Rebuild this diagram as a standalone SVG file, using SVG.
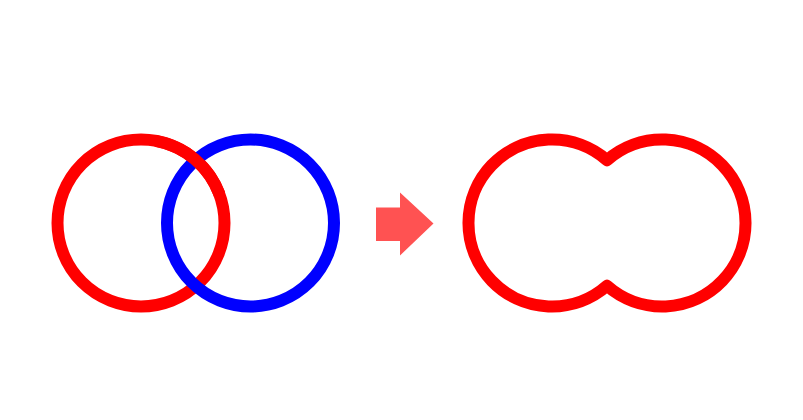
<svg xmlns="http://www.w3.org/2000/svg" width="803" height="420" viewBox="0 0 803 420">
<style>
.ring{fill:none;stroke-width:12}
.red{stroke:#ff0000}
.blue{stroke:#0000ff}
</style>
<rect width="803" height="420" fill="#ffffff"/>
<g id="before">
<circle class="ring red" cx="141" cy="223" r="83.5"/>
<circle class="ring blue" cx="250.5" cy="223" r="83.5"/>
<path class="ring red" d="M155.5,140.8 A83.5,83.5 0 0 1 219.5,194.4"/>
</g>
<g id="arrow">
<polygon points="376,207.5 400,207.5 400,192.5 433.5,223.5 400,255.5 400,241 376,241" fill="#ff5252"/>
</g>
<g id="after">
<path class="ring red" stroke-linejoin="round" d="M607,160.2 A83.5,83.5 0 1 0 607,285.8 A83.5,83.5 0 1 0 607,160.2 Z"/>
</g>
</svg>
